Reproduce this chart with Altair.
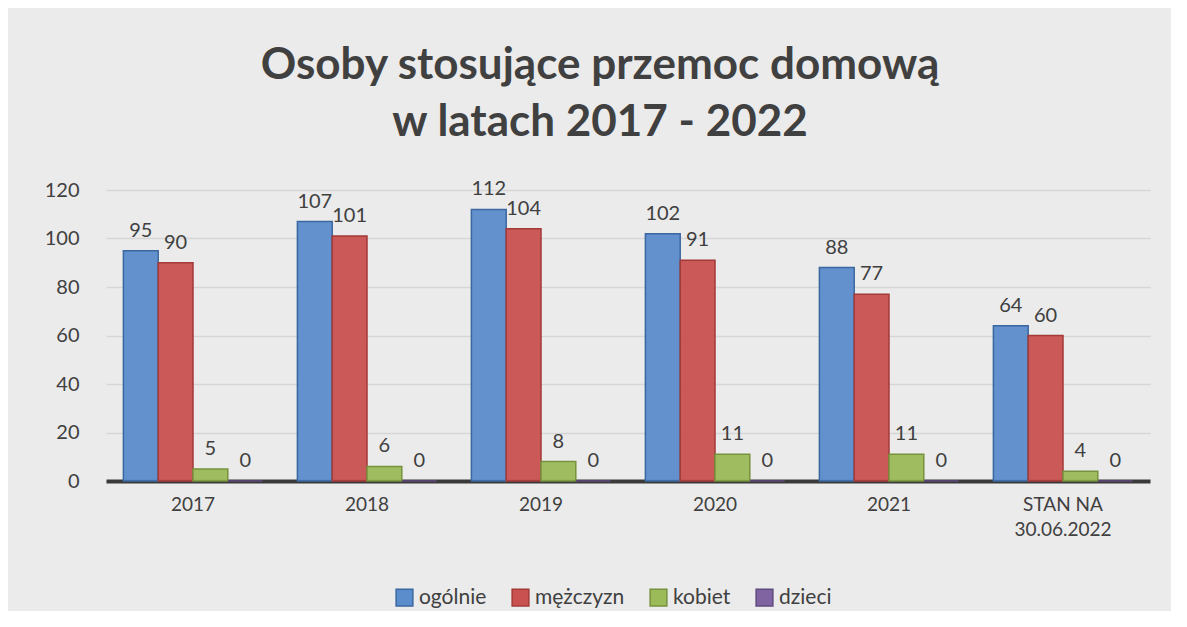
import altair as alt
import pandas as pd

categories = ["2017", "2018", "2019", "2020", "2021", "STAN NA\n30.06.2022"]
series = ["ogólnie", "mężczyzn", "kobiet", "dzieci"]
ogolnie = [95, 107, 112, 102, 88, 64]
mezczyzn = [90, 101, 104, 91, 77, 60]
kobiet = [5, 6, 8, 11, 11, 4]
dzieci = [0, 0, 0, 0, 0, 0]

fills = ["#5b8ccb", "#c9514f", "#9bbb59", "#8064a2"]
strokes = ["#3a67a0", "#a33a38", "#76923c", "#5f4a7e"]

rows = []
for s, vals in zip(series, [ogolnie, mezczyzn, kobiet, dzieci]):
    for c, v in zip(categories, vals):
        rows.append({"cat": c, "series": s, "value": v})
df = pd.DataFrame(rows)

FONT = "Lato"
TXT = "#404040"

x = alt.X("cat:N", sort=categories, title=None,
          scale=alt.Scale(paddingInner=0.2, paddingOuter=0.1),
          axis=alt.Axis(labelAngle=0, labelFont=FONT, labelFontSize=19,
                        labelColor=TXT, labelPadding=14, ticks=False,
                        domainColor="#3a3a3a", domainWidth=4,
                        labelExpr="split(datum.label, '\\n')",
                        labelLineHeight=25))
xoff = alt.XOffset("series:N", sort=series, scale=alt.Scale(paddingInner=0))
y = alt.Y("value:Q", title=None,
          scale=alt.Scale(domain=[0, 120]),
          axis=alt.Axis(values=[0, 20, 40, 60, 80, 100, 120], labelFont=FONT,
                        labelFontSize=20, labelColor=TXT, labelPadding=27,
                        ticks=False, domain=False, gridColor="#d6d6d6",
                        gridWidth=1.5))

bars = alt.Chart(df).mark_bar(strokeWidth=1.5, fillOpacity=0.95).encode(
    x=x, xOffset=xoff, y=y,
    color=alt.Color("series:N", sort=series, title=None,
                    scale=alt.Scale(domain=series, range=fills),
                    legend=alt.Legend(orient="none", direction="horizontal",
                                      legendX=288, legendY=397,
                                      symbolType="square", symbolSize=280,
                                      symbolStrokeWidth=1.5,
                                      labelFont=FONT, labelFontSize=21,
                                      labelColor=TXT, columnPadding=22,
                                      labelOffset=4)),
    stroke=alt.Stroke("series:N", sort=series,
                      scale=alt.Scale(domain=series, range=strokes),
                      legend=None),
)

labels = alt.Chart(df).mark_text(dy=-20, font=FONT, fontSize=20,
                                 color=TXT).encode(
    x=alt.X("cat:N", sort=categories),
    xOffset=alt.XOffset("series:N", sort=series),
    y=alt.Y("value:Q"),
    text=alt.Text("value:Q"),
)

chart = alt.layer(bars, labels).properties(
    width=1044, height=291,
    background="#ebebeb",
    padding={"left": 98, "top": 182, "right": 21, "bottom": 130},
    autosize=alt.AutoSizeParams(type="none"),
    title=alt.Title(["Osoby stosujące przemoc domową", "w latach 2017 - 2022"],
                    font=FONT, fontSize=44, fontWeight="bold", color=TXT,
                    anchor="middle", lineHeight=57, offset=34, dx=-28),
).configure_view(stroke=None)

chart.save("out.html", embed_options={"renderer": "svg", "actions": False})
